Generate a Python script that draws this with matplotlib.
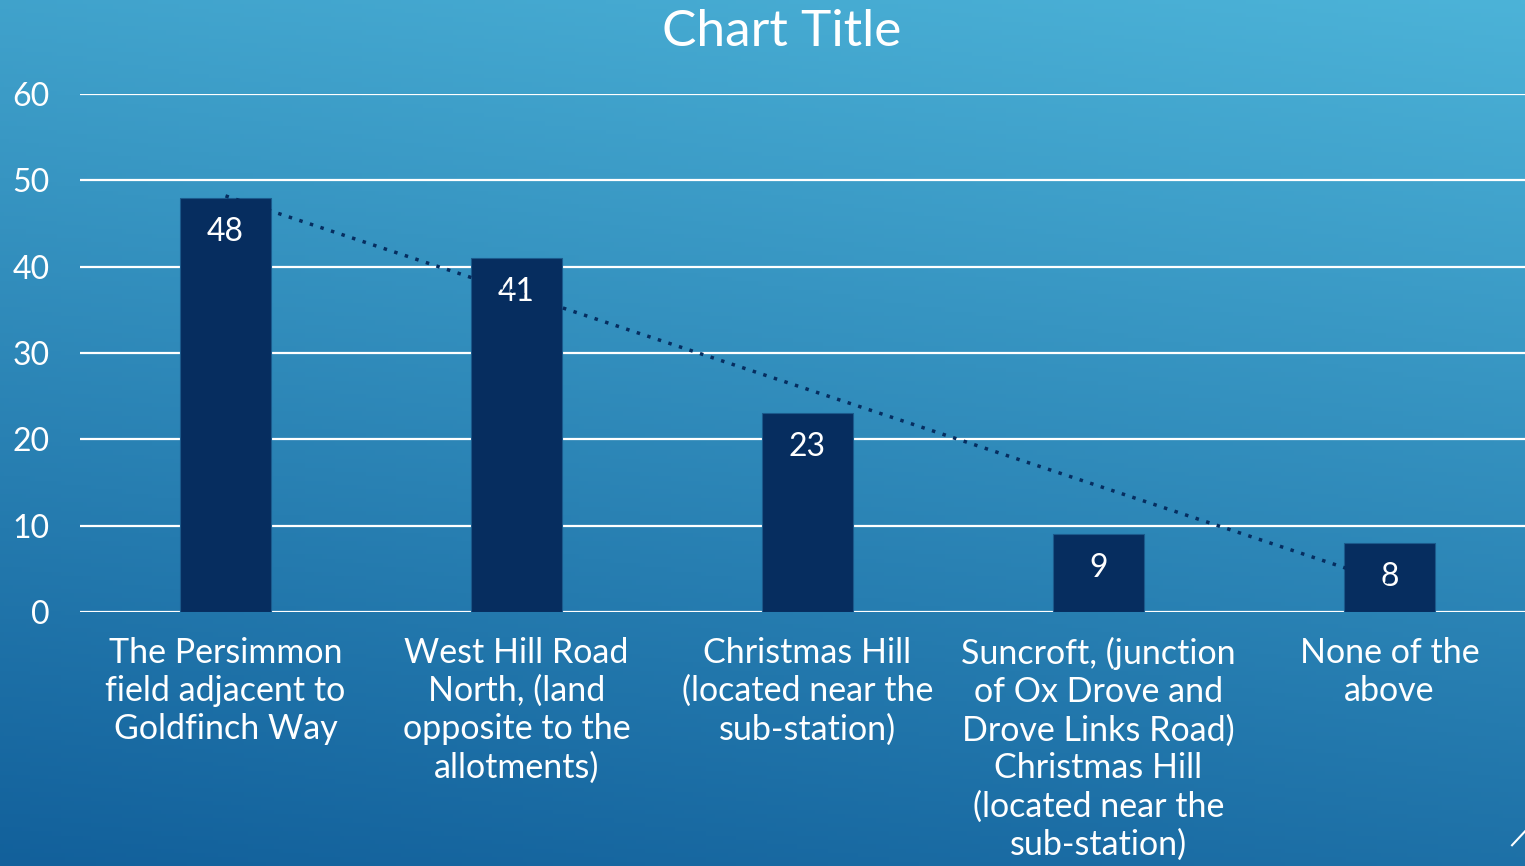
import matplotlib.pyplot as plt
import matplotlib.colors as mcolors
import numpy as np

# Data
categories = [
    "The Persimmon\nfield adjacent to\nGoldfinch Way",
    "West Hill Road\nNorth, (land\nopposite to the\nallotments)",
    "Christmas Hill\n(located near the\nsub-station)",
    "Suncroft, (junction\nof Ox Drove and\nDrove Links Road)\nChristmas Hill\n(located near the\nsub-station)",
    "None of the\nabove",
]
values = [48, 41, 23, 9, 8]
y_ticks = [0, 10, 20, 30, 40, 50, 60]

font = ["Lato", "DejaVu Sans"]
bar_color = "#062D5F"

fig = plt.figure(figsize=(15.25, 8.66), dpi=100)

# gradient background
bg = fig.add_axes([0, 0, 1, 1], zorder=-10)
h, w = 200, 350
yy, xx = np.mgrid[0:h, 0:w]
t = 0.8 * (yy / (h - 1)) + 0.2 * (1 - xx / (w - 1))
top = np.array(mcolors.to_rgb("#4CB3D8"))
bottom = np.array(mcolors.to_rgb("#12609B"))
img = top[None, None, :] * (1 - t[..., None]) + bottom[None, None, :] * t[..., None]
bg.imshow(img, aspect="auto", extent=[0, 1, 0, 1], origin="upper")
bg.axis("off")
bg.plot([0.9915, 1.0], [0.024, 0.04], color="white", lw=1.5)

ax = fig.add_axes([80 / 1525, 254 / 866, 1455 / 1525, 518 / 866])
ax.patch.set_alpha(0)
x = np.arange(len(values))
ax.bar(x, values, width=0.313, color=bar_color, edgecolor="#1B5A8C", linewidth=0.8, zorder=3)

# linear trendline
coef = np.polyfit(x, values, 1)
ax.plot(x, np.polyval(coef, x), color=bar_color, linestyle=(0, (1, 2.2)), linewidth=2.5, zorder=5)

for xi, v in zip(x, values):
    ax.annotate(str(v), (xi, v), xytext=(0, -24.5), textcoords="offset points",
                ha="center", va="center", color="white", fontsize=23, family=font, zorder=4)

ax.set_xlim(-0.5, 4.5)
ax.set_ylim(0, 60)
ax.set_yticks(y_ticks)
ax.set_xticks(x)
ax.set_xticklabels(categories, fontsize=24.5, color="white", family=font, linespacing=1.23)
ax.tick_params(axis="x", length=0, pad=18)
ax.tick_params(axis="y", length=0, pad=22, labelsize=23, labelcolor="white")
for lab in ax.get_yticklabels():
    lab.set_family(font)
ax.grid(axis="y", color="white", linewidth=1.6, zorder=0)
for s in ax.spines.values():
    s.set_visible(False)

fig.text(782 / 1525, 1 - 32 / 866, "Chart Title", ha="center", va="center",
         fontsize=37, color="white", family=font)

fig.savefig("out.png", dpi=100)
